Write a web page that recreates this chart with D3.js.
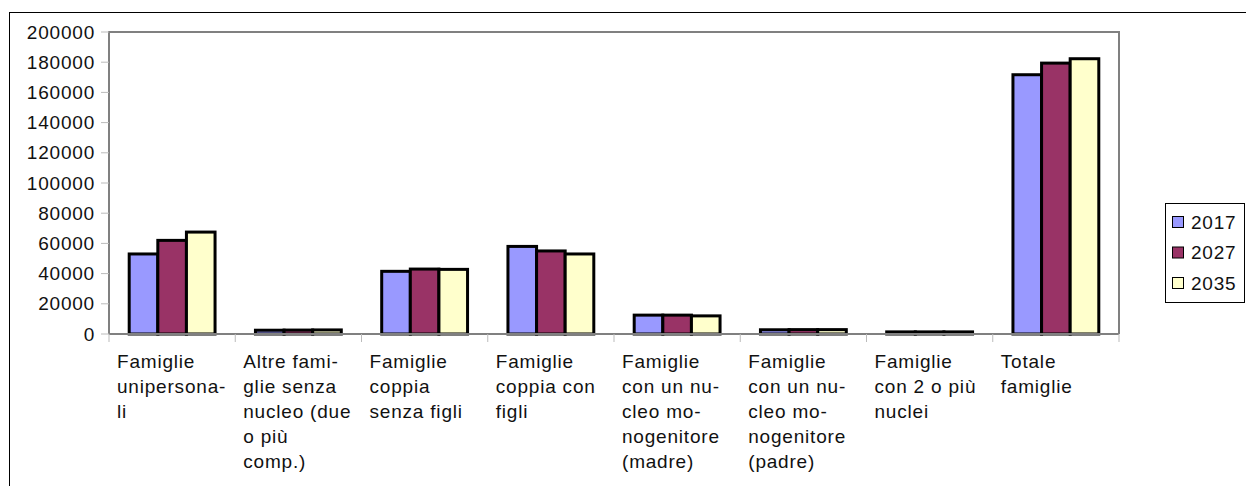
<!DOCTYPE html>
<html><head><meta charset="utf-8">
<script src="https://cdn.jsdelivr.net/npm/d3@7"></script>
<style>body{margin:0;background:#fff}svg{display:block}text{font-family:"Liberation Sans",Arial,sans-serif;fill:#111;letter-spacing:0.8px}</style>
</head><body>
<script>
const categories = [
  ["Famiglie","unipersona-","li"],
  ["Altre fami-","glie senza","nucleo (due","o più","comp.)"],
  ["Famiglie","coppia","senza figli"],
  ["Famiglie","coppia con","figli"],
  ["Famiglie","con un nu-","cleo mo-","nogenitore","(madre)"],
  ["Famiglie","con un nu-","cleo mo-","nogenitore","(padre)"],
  ["Famiglie","con 2 o più","nuclei"],
  ["Totale","famiglie"]
];
const seriesNames = ["2017","2027","2035"];
const values2017 = [53000, 2500, 41500, 58000, 12500, 2800, 1400, 171700];
const values2027 = [62000, 2600, 43000, 55000, 12500, 2900, 1400, 179400];
const values2035 = [67500, 2700, 42800, 53000, 12000, 2900, 1400, 182300];
const yTicks = [0,20000,40000,60000,80000,100000,120000,140000,160000,180000,200000];
const colors = ["#9999FF","#993366","#FFFFCC"];
const series = [values2017, values2027, values2035];

const W=1246,H=486;
const svg=d3.select("body").append("svg").attr("width",W).attr("height",H);
svg.append("rect").attr("x",9.5).attr("y",12.5).attr("width",W).attr("height",H).attr("fill","none").attr("stroke","#000").attr("stroke-width",1);

const L=109,R=1119,T=32,B=334;
const FS=19;
const x=d3.scaleBand().domain(d3.range(categories.length)).range([L,R]);
const y=d3.scaleLinear().domain([0,200000]).range([B,T]);
const inner=d3.scaleBand().domain(d3.range(3)).range([0,x.bandwidth()*0.68]);
const off=(x.bandwidth()-x.bandwidth()*0.68)/2;

svg.append("path").attr("d",`M${L},${B}V${T}H${R}V${B}`).attr("fill","none").attr("stroke","#808080").attr("stroke-width",2);

const yg=svg.append("g");
yTicks.forEach(t=>{
  yg.append("line").attr("x1",L-8).attr("x2",L).attr("y1",y(t)).attr("y2",y(t)).attr("stroke","#bbb").attr("stroke-width",1);
  yg.append("text").attr("x",95).attr("y",y(t)).attr("dy","0.35em").attr("text-anchor","end").attr("font-size",FS).text(t);
});

series.forEach((vals,si)=>{
  svg.append("g").selectAll("rect").data(vals).join("rect")
    .attr("x",(d,i)=>x(i)+off+inner(si))
    .attr("width",inner.bandwidth())
    .attr("y",d=>y(d))
    .attr("height",d=>B-y(d))
    .attr("fill",colors[si]).attr("stroke","#000").attr("stroke-width",3);
});

svg.append("line").attr("x1",L).attr("x2",R).attr("y1",B).attr("y2",B).attr("stroke","#808080").attr("stroke-width",2);
d3.range(categories.length+1).forEach(i=>{
  const xx=L+i*x.step();
  svg.append("line").attr("x1",xx).attr("x2",xx).attr("y1",B).attr("y2",B+8).attr("stroke","#bbb").attr("stroke-width",1);
});
categories.forEach((lines,i)=>{
  const t=svg.append("text").attr("x",x(i)+8).attr("y",368).attr("font-size",FS);
  lines.forEach((ln,j)=>t.append("tspan").attr("x",x(i)+8).attr("y",368+j*25).text(ln));
});

const lg=svg.append("g");
lg.append("rect").attr("x",1165.5).attr("y",203.5).attr("width",79).attr("height",99).attr("fill","#fff").attr("stroke","#000").attr("stroke-width",1);
seriesNames.forEach((n,i)=>{
  const cy=222+i*30.5;
  lg.append("rect").attr("x",1172.5).attr("y",cy-5.5).attr("width",11).attr("height",11).attr("fill",colors[i]).attr("stroke","#000").attr("stroke-width",1);
  lg.append("text").attr("x",1191).attr("y",cy).attr("dy","0.35em").attr("font-size",FS).text(n);
});
</script>
</body></html>
